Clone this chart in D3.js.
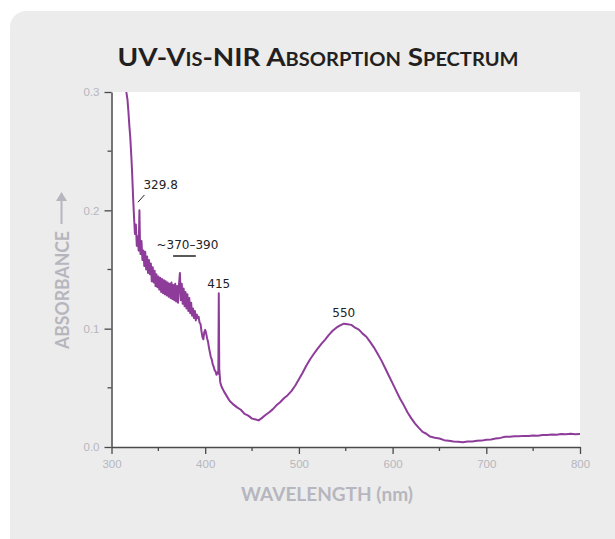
<!DOCTYPE html>
<html>
<head>
<meta charset="utf-8">
<script src="https://cdn.jsdelivr.net/npm/d3@7"></script>
<style>
  body { margin: 0; background: #fff; }
  svg { display: block; }
</style>
</head>
<body>
<svg id="chart" width="615" height="539"></svg>
<script>
// spectrum (nm, absorbance)
var wavelength = [
  315.8, 317, 318, 319, 320, 321, 322, 323, 324, 325, 326, 327, 328, 329, 329.8, 330.5,
  331, 332, 333, 334, 335, 336, 337, 338, 339, 340, 341, 342, 343, 344, 345, 346, 347, 348, 349, 350,
  351, 352, 353, 354, 355, 356, 357, 358, 359, 360, 361, 362, 363, 364, 365, 366, 367, 368, 369, 370,
  371, 372, 373, 374, 375, 376, 377, 378, 379, 380, 381, 382, 383, 384, 385, 386, 387, 388, 389, 390,
  391, 392, 393, 394, 395, 396, 397, 398, 399, 400, 401, 402, 403, 404, 405, 406, 407, 408, 409, 410,
  411, 412, 413, 414, 414.5, 415, 416, 417, 418, 420, 423, 426, 430, 434, 438, 442, 446, 450,
  454, 457, 460, 464, 468, 472, 476, 480, 484, 488, 492, 496, 500, 504, 508, 512, 516, 520,
  524, 528, 532, 536, 540, 544, 548, 552, 556, 560, 564, 568, 572, 576, 580, 584, 588, 592,
  596, 600, 604, 608, 612, 616, 620, 624, 628, 632, 636, 640, 645, 650, 655, 660, 665, 670,
  675, 680, 685, 690, 695, 700, 705, 710, 715, 720, 725, 730, 735, 740, 745, 750, 755, 760,
  765, 770, 775, 780, 785, 790, 795, 800
];
var absorbance = [
  0.300, 0.294, 0.284, 0.272, 0.262, 0.248, 0.232, 0.212, 0.195, 0.180, 0.188, 0.170, 0.178, 0.166, 0.200, 0.168,
  0.163, 0.174, 0.158, 0.166, 0.153, 0.165, 0.150, 0.161, 0.147, 0.158, 0.146, 0.155, 0.140, 0.152, 0.139, 0.149, 0.136, 0.146, 0.135, 0.144,
  0.133, 0.143, 0.131, 0.142, 0.130, 0.141, 0.129, 0.140, 0.128, 0.139, 0.127, 0.138, 0.126, 0.139, 0.125, 0.137, 0.124, 0.138, 0.123, 0.136,
  0.122, 0.137, 0.147, 0.124, 0.138, 0.121, 0.134, 0.119, 0.131, 0.117, 0.129, 0.115, 0.126, 0.113, 0.122, 0.111, 0.117, 0.109, 0.115, 0.107,
  0.112, 0.109, 0.110, 0.105, 0.104, 0.098, 0.093, 0.091, 0.097, 0.099, 0.096, 0.092, 0.089, 0.084, 0.080, 0.076, 0.074, 0.070, 0.068, 0.065,
  0.064, 0.061, 0.063, 0.062, 0.130, 0.066, 0.055, 0.052, 0.050, 0.047, 0.043, 0.039, 0.036, 0.0335, 0.0315, 0.028, 0.0265, 0.024,
  0.0232, 0.0225, 0.0242, 0.0268, 0.0292, 0.0318, 0.0352, 0.0378, 0.0412, 0.0438, 0.0472, 0.0518, 0.0572, 0.0628, 0.0688, 0.0742, 0.0788, 0.0832,
  0.0872, 0.0908, 0.0948, 0.0982, 0.1008, 0.1028, 0.1042, 0.1038, 0.1032, 0.1008, 0.0992, 0.0958, 0.0932, 0.0888, 0.0842, 0.0788, 0.0732, 0.0668,
  0.0602, 0.0538, 0.0472, 0.0408, 0.0352, 0.0292, 0.0242, 0.0198, 0.0162, 0.0128, 0.0112, 0.0088, 0.0078, 0.0072, 0.0058, 0.0052, 0.0046, 0.0044,
  0.0040, 0.0046, 0.0047, 0.0052, 0.0054, 0.0061, 0.0064, 0.0071, 0.0077, 0.0086, 0.0086, 0.0091, 0.0090, 0.0094, 0.0093, 0.0097, 0.0096, 0.0101,
  0.0102, 0.0106, 0.0104, 0.0109, 0.0108, 0.0111, 0.0107, 0.0110
];

var xMajor = [300, 400, 500, 600, 700, 800];
var xMinor = [350, 450, 550, 650, 750];
var yMajor = [0.0, 0.1, 0.2, 0.3];
var yMinor = [0.05, 0.15, 0.25];

var peakLabels = ["329.8", "~370\u2013390", "415", "550"];
var peakAt = [329.8, 380, 415, 550];
var peakLevel = [0.218, 0.167, 0.134, 0.110];

var chartTitle = "UV-Vis-NIR Absorption Spectrum";
var xTitle = "WAVELENGTH (nm)";
var yTitle = "ABSORBANCE";

var svg = d3.select("#chart");

// grey panel
svg.append("rect")
  .attr("x", 10).attr("y", 11)
  .attr("width", 640).attr("height", 560)
  .attr("rx", 16)
  .attr("fill", "#ececec");

var x = d3.scaleLinear().domain([300, 800]).range([111.5, 580]);
var y = d3.scaleLinear().domain([0, 0.3]).range([447, 92]);

svg.append("rect")
  .attr("x", x(300)).attr("y", y(0.3))
  .attr("width", x(800) - x(300)).attr("height", y(0) - y(0.3))
  .attr("fill", "#fff");

svg.append("defs").append("clipPath").attr("id", "plot")
  .append("rect")
  .attr("x", x(300)).attr("y", y(0.3))
  .attr("width", x(800) - x(300)).attr("height", y(0) - y(0.3));

var pts = wavelength.map(function(w, i) { return [w, absorbance[i]]; });

var line = d3.line()
  .x(function(d) { return x(d[0]); })
  .y(function(d) { return y(d[1]); });

svg.append("path")
  .datum(pts)
  .attr("clip-path", "url(#plot)")
  .attr("d", line)
  .attr("fill", "none")
  .attr("stroke", "#8e3c99")
  .attr("stroke-width", 2)
  .attr("stroke-linejoin", "round");

// axes
var axisColor = "#4a4a4a";
var labelColor = "#b6b6be";

var xAxis = svg.append("g").attr("transform", "translate(0," + y(0) + ")")
  .call(d3.axisBottom(x).tickValues(xMajor).tickSize(7).tickSizeOuter(0).tickPadding(6));
xAxis.append("g").selectAll("line").data(xMinor).join("line")
  .attr("x1", function(d) { return x(d); }).attr("x2", function(d) { return x(d); })
  .attr("y1", 0).attr("y2", 4)
  .attr("stroke", axisColor).attr("stroke-width", 1.3);

var yAxis = svg.append("g").attr("transform", "translate(" + x(300) + ",0)")
  .call(d3.axisLeft(y).tickValues(yMajor).tickFormat(d3.format(".1f")).tickSize(7).tickSizeOuter(0).tickPadding(5));
yAxis.append("g").selectAll("line").data(yMinor).join("line")
  .attr("y1", function(d) { return y(d); }).attr("y2", function(d) { return y(d); })
  .attr("x1", 0).attr("x2", -4)
  .attr("stroke", axisColor).attr("stroke-width", 1.3);

[xAxis, yAxis].forEach(function(g) {
  g.select(".domain").attr("stroke", axisColor).attr("stroke-width", 1.5);
  g.selectAll(".tick line").attr("stroke", axisColor).attr("stroke-width", 1.3);
  g.selectAll(".tick text")
    .attr("fill", labelColor)
    .attr("font-family", "'Liberation Sans', Arial, sans-serif")
    .attr("font-size", 11.5);
});

// titles
svg.append("text")
  .attr("x", 318).attr("y", 66)
  .attr("text-anchor", "middle")
  .attr("font-family", "Lato, 'Open Sans', sans-serif")
  .attr("font-weight", "bold")
  .attr("font-size", 25)
  .style("font-variant", "small-caps")
  .attr("fill", "#231f20")
  .attr("textLength", 401)
  .attr("lengthAdjust", "spacingAndGlyphs")
  .text(chartTitle);

svg.append("text")
  .attr("x", 327).attr("y", 501)
  .attr("text-anchor", "middle")
  .attr("font-family", "Lato, 'Open Sans', sans-serif")
  .attr("font-weight", "bold")
  .attr("font-size", 18)
  .attr("fill", "#b6b6be")
  .attr("textLength", 172)
  .attr("lengthAdjust", "spacingAndGlyphs")
  .text(xTitle);

svg.append("text")
  .attr("transform", "translate(69,290) rotate(-90)")
  .attr("text-anchor", "middle")
  .attr("font-family", "Lato, 'Open Sans', sans-serif")
  .attr("font-weight", "bold")
  .attr("font-size", 18)
  .attr("fill", "#b6b6be")
  .attr("textLength", 118)
  .attr("lengthAdjust", "spacingAndGlyphs")
  .text(yTitle);

// arrow beside the y title
svg.append("line")
  .attr("x1", 61.5).attr("x2", 61.5)
  .attr("y1", 224).attr("y2", 198)
  .attr("stroke", "#b6b6be").attr("stroke-width", 2);
svg.append("path")
  .attr("d", "M56,201 L61.5,192 L67,201 Z")
  .attr("fill", "#b6b6be");

// peak annotations
var ann = svg.append("g")
  .attr("font-family", "'DejaVu Sans', Verdana, sans-serif")
  .attr("font-size", 12)
  .attr("fill", "#222");

ann.append("text").attr("x", x(peakAt[0]) + 4).attr("y", y(peakLevel[0]) + 0)
  .text(peakLabels[0]);
ann.append("line")
  .attr("x1", x(peakAt[0]) - 1.5).attr("y1", y(0.206) - 1)
  .attr("x2", x(peakAt[0]) + 5).attr("y2", y(0.213))
  .attr("stroke", "#222").attr("stroke-width", 1);

ann.append("text").attr("x", x(peakAt[1]) - 30).attr("y", y(peakLevel[1]))
  .text(peakLabels[1]);
ann.append("line")
  .attr("x1", x(370) - 4).attr("x2", x(390))
  .attr("y1", 256).attr("y2", 256)
  .attr("stroke", "#222").attr("stroke-width", 1.5);

ann.append("text").attr("x", x(peakAt[2]) - 0.5).attr("y", y(peakLevel[2]))
  .attr("text-anchor", "middle")
  .text(peakLabels[2]);

ann.append("text").attr("x", x(peakAt[3]) - 2).attr("y", y(peakLevel[3]))
  .attr("text-anchor", "middle")
  .text(peakLabels[3]);
</script>
</body>
</html>
